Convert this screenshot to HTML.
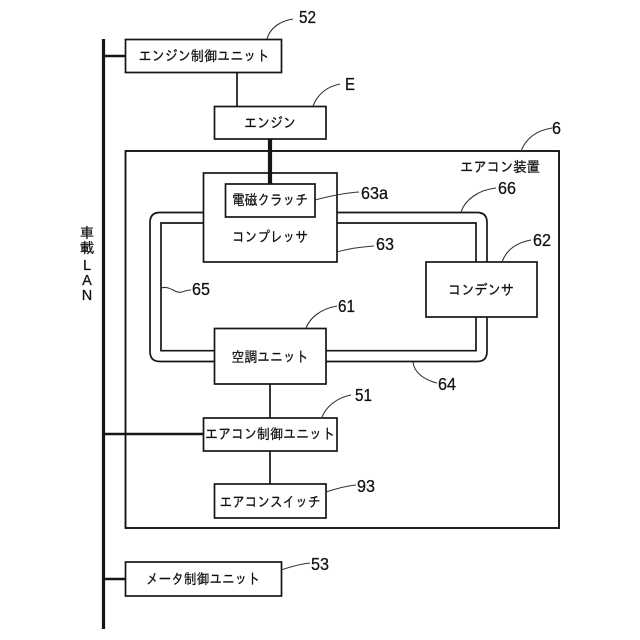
<!DOCTYPE html>
<html><head><meta charset="utf-8"><style>
html,body{margin:0;padding:0;background:#fff;width:640px;height:640px;overflow:hidden}
svg{display:block}
text{font-family:"Liberation Sans","IPAGothic","Noto Sans CJK JP",sans-serif;fill:#111;stroke:#111;stroke-width:.25}
.j{font-size:14.5px;text-anchor:middle}
.n{font-size:17.5px}
</style></head><body>
<svg width="640" height="640" viewBox="0 0 640 640" xmlns="http://www.w3.org/2000/svg">
<g fill="none" stroke="#151515" stroke-width="1.7">
<path d="M103.5 39V629" stroke-width="3.2"/>
<path d="M103 56H126M103 434H204M103 579H126" stroke-width="2.4"/>
<path d="M237 73V107M270 384V418M270 451V484"/>
<rect x="125.5" y="151" width="433.5" height="377" stroke-width="1.9"/>
<path d="M204 212.5H160Q150 212.5 150 222.5V351.5Q150 361.5 160 361.5H214M326 361.5H477Q487 361.5 487 351.5V222.5Q487 212.5 477 212.5H337"/>
<path d="M204 223H161V350.7H214M326 350.7H476V223H337"/>
<rect x="125.5" y="39.5" width="156" height="33" fill="#fff"/>
<rect x="214.5" y="106.5" width="111.5" height="32.5" fill="#fff"/>
<rect x="203.5" y="173" width="133.5" height="89" fill="#fff"/>
<rect x="225.5" y="184" width="89.5" height="33" fill="#fff"/>
<rect x="426" y="262" width="111" height="55" fill="#fff"/>
<rect x="214.5" y="328.5" width="111.5" height="55.5" fill="#fff"/>
<rect x="203.5" y="418" width="133.5" height="33" fill="#fff"/>
<rect x="214.5" y="484" width="111.5" height="34" fill="#fff"/>
<rect x="125.5" y="562" width="156" height="34" fill="#fff"/>
</g>
<path d="M270 139V184" stroke="#151515" stroke-width="4.2" fill="none"/>
<g fill="none" stroke="#333" stroke-width="1.1">
<path d="M267 39C270 28 280 21 293 19"/>
<path d="M313 106C317 96 325 87 340 84"/>
<path d="M521 151C525 141 533 131 552 128"/>
<path d="M315 200C330 196 345 193 359 192"/>
<path d="M337 252C347 249 360 247 374 246"/>
<path d="M461 212C465 200 478 190 496 188"/>
<path d="M502 262C506 251 515 243 531 240"/>
<path d="M161 288C170 285 175 294 182 292C185 291 187 290 191 290"/>
<path d="M306 328C310 318 320 309 337 306"/>
<path d="M413 362C414 373 425 380 437 383"/>
<path d="M322 417C326 407 336 398 351 395"/>
<path d="M326 492C335 489 346 486 356 485"/>
<path d="M281 570C290 567 300 564 310 563"/>
</g>
<text class="j" x="204" y="61" textLength="131" lengthAdjust="spacingAndGlyphs">エンジン制御ユニット</text>
<text class="j" x="270" y="128" textLength="52" lengthAdjust="spacingAndGlyphs">エンジン</text>
<text class="j" x="270" y="205" textLength="76" lengthAdjust="spacingAndGlyphs">電磁クラッチ</text>
<text class="j" x="270" y="242" textLength="76" lengthAdjust="spacingAndGlyphs">コンプレッサ</text>
<text class="j" x="481" y="295" textLength="66" lengthAdjust="spacingAndGlyphs">コンデンサ</text>
<text class="j" x="270" y="362" textLength="77" lengthAdjust="spacingAndGlyphs">空調ユニット</text>
<text class="j" x="270" y="439" textLength="130" lengthAdjust="spacingAndGlyphs">エアコン制御ユニット</text>
<text class="j" x="270" y="507" textLength="101" lengthAdjust="spacingAndGlyphs">エアコンスイッチ</text>
<text class="j" x="203" y="584" textLength="114" lengthAdjust="spacingAndGlyphs">メータ制御ユニット</text>
<text class="j" x="500" y="172" textLength="80" lengthAdjust="spacingAndGlyphs">エアコン装置</text>
<g style="font-size:14.5px;text-anchor:middle">
<text x="87" y="238">車</text>
<text x="87" y="253">載</text>
<text x="87" y="270">L</text>
<text x="87" y="285">A</text>
<text x="87" y="300">N</text>
</g>
<text class="n" x="299" y="23" textLength="17" lengthAdjust="spacingAndGlyphs">52</text>
<text class="n" x="345" y="90" textLength="10" lengthAdjust="spacingAndGlyphs">E</text>
<text class="n" x="552" y="134" textLength="9" lengthAdjust="spacingAndGlyphs">6</text>
<text class="n" x="361" y="199" textLength="27" lengthAdjust="spacingAndGlyphs">63a</text>
<text class="n" x="376" y="250" textLength="18" lengthAdjust="spacingAndGlyphs">63</text>
<text class="n" x="498" y="194" textLength="18" lengthAdjust="spacingAndGlyphs">66</text>
<text class="n" x="533" y="246" textLength="18" lengthAdjust="spacingAndGlyphs">62</text>
<text class="n" x="192" y="295" textLength="18" lengthAdjust="spacingAndGlyphs">65</text>
<text class="n" x="338" y="312" textLength="17" lengthAdjust="spacingAndGlyphs">61</text>
<text class="n" x="438" y="390" textLength="18" lengthAdjust="spacingAndGlyphs">64</text>
<text class="n" x="355" y="401" textLength="17" lengthAdjust="spacingAndGlyphs">51</text>
<text class="n" x="357" y="492" textLength="18" lengthAdjust="spacingAndGlyphs">93</text>
<text class="n" x="311" y="570" textLength="18" lengthAdjust="spacingAndGlyphs">53</text>
</svg>
</body></html>
